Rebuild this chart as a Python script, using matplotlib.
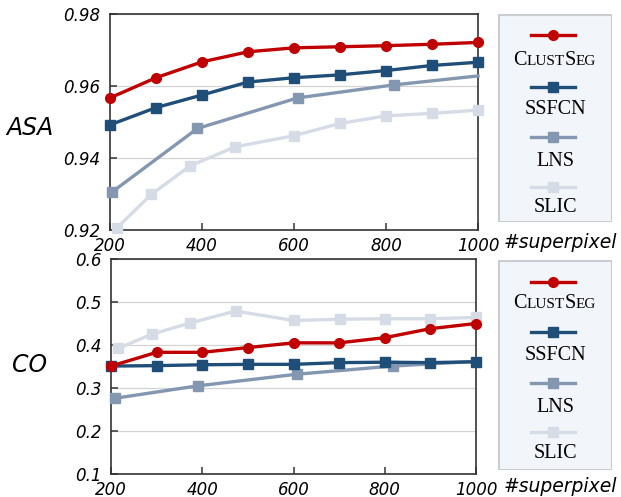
import numpy as np
import matplotlib
matplotlib.use("Agg")
import matplotlib.pyplot as plt
from matplotlib.lines import Line2D
from matplotlib.patches import Rectangle

# --- data ---
names = ["ClustSeg", "SSFCN", "LNS", "SLIC"]
colors = ["#c00000", "#1f4e79", "#8497b0", "#d6dce5"]
markers = ["o", "s", "s", "s"]

# ASA (top)
asa_x_clust = [200, 300, 400, 500, 600, 700, 800, 900, 1000]
asa_clust = [0.9567, 0.9623, 0.9667, 0.9695, 0.9706, 0.9709, 0.9712, 0.9716, 0.9721]
asa_x_ssfcn = [200, 300, 400, 500, 600, 700, 800, 900, 1000]
asa_ssfcn = [0.9492, 0.9540, 0.9575, 0.9611, 0.9623, 0.9631, 0.9643, 0.9657, 0.9666]
asa_x_lns = [205, 390, 608, 817, 1000]
asa_lns = [0.9306, 0.9482, 0.9567, 0.9603, 0.9628]
asa_x_slic = [215, 290, 374, 472, 600, 700, 800, 900, 1000]
asa_slic = [0.9206, 0.9299, 0.9378, 0.9431, 0.9462, 0.9496, 0.9517, 0.9524, 0.9533]

# CO (bottom)
co_x_clust = [200, 300, 400, 500, 600, 700, 800, 900, 1000]
co_clust = [0.351, 0.383, 0.383, 0.394, 0.405, 0.405, 0.417, 0.438, 0.450]
co_x_ssfcn = [200, 300, 400, 500, 600, 700, 800, 900, 1000]
co_ssfcn = [0.351, 0.352, 0.354, 0.355, 0.355, 0.359, 0.360, 0.359, 0.361]
co_x_lns = [208, 390, 607, 817, 1000]
co_lns = [0.276, 0.305, 0.332, 0.351, 0.362]
co_x_slic = [216, 289, 373, 473, 600, 703, 800, 900, 1000]
co_slic = [0.392, 0.425, 0.451, 0.479, 0.457, 0.460, 0.461, 0.461, 0.464]

xticks = [200, 400, 600, 800, 1000]
W, H = 621, 497

fig = plt.figure(figsize=(W / 100, H / 100), dpi=100)


def px_axes(l, t, r, b):
    return fig.add_axes([l / W, 1 - b / H, (r - l) / W, (b - t) / H])


def draw_panel(ax, xs, ys, ylim, yticks, ylabel, ylab_pos, sp_y):
    # draw back to front: SLIC, LNS, SSFCN, ClustSeg
    for i in [3, 2, 1, 0]:
        mev = [0, 1, 2, 3] if i == 2 else None
        ms = 7 if markers[i] == "o" else 7.5
        ax.plot(xs[i], ys[i], color=colors[i], marker=markers[i], lw=2.4, ms=ms,
                markevery=mev, clip_on=False, zorder=3 + (3 - i))
    ax.set_xlim(200, 1000)
    ax.set_ylim(*ylim)
    ax.set_xticks(xticks)
    ax.set_yticks(yticks)
    ax.set_yticklabels([("%.2f" % v) if ylim[1] > 0.9 else ("%.1f" % v) for v in yticks])
    ax.grid(axis="y", color="#d4d4d4", lw=0.9)
    ax.set_axisbelow(True)
    for s in ax.spines.values():
        s.set_color("#333333")
        s.set_linewidth(1.2)
    ax.tick_params(direction="in", length=5, width=1.1, color="#333333",
                   labelsize=12, pad=7)
    for lab in ax.get_xticklabels() + ax.get_yticklabels():
        lab.set_fontstyle("italic")
    ax.tick_params(axis="x", pad=5)
    fig.text(ylab_pos[0] / W, 1 - ylab_pos[1] / H, ylabel, fontsize=17,
             fontstyle="italic", ha="center", va="center")
    fig.text(504 / W, 1 - sp_y / H, "#superpixel", fontsize=13.5,
             fontstyle="italic", ha="left", va="center")


def draw_legend(top, bottom, handle_y, label_y):
    lax = px_axes(498, top, 612, bottom)
    lax.set_xlim(0, 114)
    lax.set_ylim(bottom - top, 0)
    lax.axis("off")
    lax.add_patch(Rectangle((0.5, 0.5), 113, bottom - top - 1, facecolor="#f2f5f9",
                            edgecolor="#c9cdd2", lw=1.5))
    for i in range(4):
        hy = handle_y[i] - top
        lax.add_line(Line2D([33, 77], [hy, hy], color=colors[i], lw=2.4))
        ms = 7 if markers[i] == "o" else 7.5
        lax.plot([55], [hy], marker=markers[i], color=colors[i], ms=ms)
        ly = label_y[i] - top
        if i == 0:
            # small caps "ClustSeg"
            parts = [("C", 14.5), ("LUST", 11), ("S", 14.5), ("EG", 11)]
            prev = lax.text(15, ly + 5, parts[0][0], fontsize=parts[0][1],
                            family="Liberation Serif", ha="left", va="baseline")
            for txt, sz in parts[1:]:
                prev = lax.annotate(txt, xy=(1, ly + 5), xycoords=(prev, "data"),
                                    fontsize=sz, family="Liberation Serif",
                                    ha="left", va="baseline")
        else:
            lax.text(57, ly, names[i], fontsize=14.5, family="Liberation Serif",
                     ha="center", va="center")


ax1 = px_axes(110, 14, 478, 230)
draw_panel(ax1, [asa_x_clust, asa_x_ssfcn, asa_x_lns, asa_x_slic],
           [asa_clust, asa_ssfcn, asa_lns, asa_slic],
           (0.92, 0.98), [0.92, 0.94, 0.96, 0.98], "ASA", (30, 128), 243)

ax2 = px_axes(111, 259, 476, 474)
draw_panel(ax2, [co_x_clust, co_x_ssfcn, co_x_lns, co_x_slic],
           [co_clust, co_ssfcn, co_lns, co_slic],
           (0.1, 0.6), [0.1, 0.2, 0.3, 0.4, 0.5, 0.6], "CO", (30, 365), 487)

draw_legend(14, 222, [35, 87, 137, 187], [60, 110, 162, 207])
draw_legend(260, 470, [282, 332, 383, 432], [303, 356, 408, 453])

fig.savefig("out.png", dpi=100)
